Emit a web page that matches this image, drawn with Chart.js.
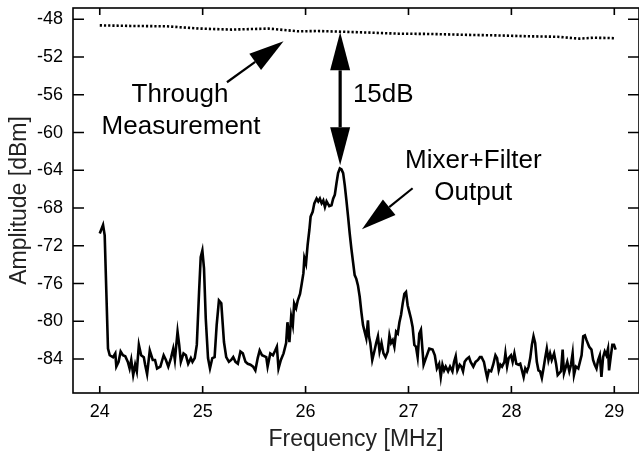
<!DOCTYPE html>
<html>
<head>
<meta charset="utf-8">
<script src="https://cdn.jsdelivr.net/npm/chart.js@4"></script>
<style>
  html, body { margin: 0; padding: 0; background: #fff; }
  canvas { display: block; }
</style>
</head>
<body>
<canvas id="spectrum" width="639" height="453"></canvas>
<script>
// Mixer+Filter output trace [MHz], [dBm]
const mixFreq = [
  24.000, 24.032, 24.048, 24.064, 24.080, 24.097, 24.129, 24.151, 24.161, 24.183,
  24.203, 24.225, 24.248, 24.273, 24.290, 24.306, 24.325, 24.344, 24.360, 24.380,
  24.402, 24.428, 24.441, 24.460, 24.486, 24.515, 24.537, 24.557, 24.589, 24.621,
  24.643, 24.666, 24.692, 24.714, 24.730, 24.756, 24.772, 24.788, 24.814, 24.837,
  24.859, 24.885, 24.901, 24.923, 24.943, 24.965, 24.981, 24.997, 25.013, 25.030,
  25.052, 25.071, 25.094, 25.116, 25.136, 25.158, 25.181, 25.207, 25.229, 25.255,
  25.277, 25.297, 25.319, 25.342, 25.367, 25.390, 25.416, 25.438, 25.464, 25.490,
  25.512, 25.535, 25.554, 25.577, 25.618, 25.631, 25.657, 25.683, 25.705, 25.721,
  25.737, 25.760, 25.786, 25.811, 25.824, 25.843, 25.860, 25.876, 25.889, 25.908,
  25.924, 25.946, 25.963, 25.979, 25.988, 26.004, 26.020, 26.037, 26.049, 26.069,
  26.085, 26.107, 26.123, 26.139, 26.156, 26.172, 26.188, 26.204, 26.230, 26.252,
  26.268, 26.284, 26.300, 26.316, 26.333, 26.349, 26.365, 26.381, 26.397, 26.413,
  26.429, 26.445, 26.461, 26.477, 26.493, 26.509, 26.526, 26.542, 26.558, 26.574,
  26.590, 26.606, 26.616, 26.629, 26.648, 26.670, 26.686, 26.703, 26.719, 26.738,
  26.757, 26.777, 26.799, 26.815, 26.831, 26.847, 26.863, 26.880, 26.896, 26.912,
  26.928, 26.944, 26.960, 26.976, 26.992, 27.008, 27.024, 27.040, 27.057, 27.073,
  27.089, 27.105, 27.121, 27.147, 27.169, 27.202, 27.234, 27.256, 27.276, 27.298,
  27.314, 27.330, 27.346, 27.362, 27.385, 27.404, 27.427, 27.443, 27.459, 27.475,
  27.498, 27.514, 27.530, 27.546, 27.565, 27.588, 27.604, 27.630, 27.652, 27.675,
  27.694, 27.710, 27.733, 27.749, 27.765, 27.781, 27.803, 27.823, 27.845, 27.861,
  27.877, 27.893, 27.909, 27.932, 27.942, 27.958, 27.974, 27.996, 28.012, 28.029,
  28.048, 28.070, 28.086, 28.103, 28.119, 28.135, 28.151, 28.167, 28.183, 28.199,
  28.215, 28.231, 28.247, 28.263, 28.279, 28.296, 28.312, 28.328, 28.344, 28.360,
  28.376, 28.392, 28.415, 28.434, 28.450, 28.466, 28.482, 28.498, 28.511, 28.530,
  28.543, 28.563, 28.579, 28.595, 28.608, 28.627, 28.650, 28.666, 28.682, 28.698,
  28.714, 28.730, 28.756, 28.778, 28.794, 28.810, 28.827, 28.843, 28.859, 28.875,
  28.891, 28.907, 28.923, 28.939, 28.949, 28.965, 28.981, 28.997, 29.013
];
const mixDbm = [
  -70.7, -69.8, -70.9, -76.9, -82.9, -83.6, -83.8, -83.4, -84.8, -84.3,
  -83.2, -83.6, -83.7, -84.3, -85.0, -84.1, -85.7, -84.6, -85.3, -82.5,
  -83.6, -83.8, -84.6, -85.6, -83.1, -84.1, -84.1, -85.0, -84.8, -83.6,
  -84.1, -84.8, -83.9, -82.9, -84.1, -81.1, -82.5, -84.3, -83.4, -83.6,
  -84.5, -83.9, -84.3, -83.9, -82.5, -76.9, -73.2, -72.5, -74.4, -79.7,
  -83.9, -85.0, -83.9, -83.8, -80.4, -77.8, -78.1, -82.2, -83.8, -84.3,
  -84.1, -83.8, -84.3, -84.5, -83.2, -83.4, -84.3, -84.5, -84.6, -84.8,
  -85.2, -83.9, -83.1, -83.6, -83.8, -84.8, -83.4, -83.6, -83.1, -82.7,
  -85.0, -84.1, -83.4, -82.3, -80.1, -82.2, -79.5, -80.4, -78.1, -78.6,
  -77.8, -77.1, -76.0, -74.9, -73.3, -73.9, -71.9, -70.3, -68.9, -68.4,
  -67.5, -67.0, -67.3, -67.0, -67.5, -67.2, -67.9, -67.3, -67.8, -67.7,
  -67.0, -66.6, -65.4, -64.3, -63.8, -63.9, -64.3, -65.6, -67.2, -68.9,
  -70.7, -72.3, -73.7, -75.1, -75.5, -76.2, -77.4, -79.0, -80.4, -81.1,
  -81.8, -79.9, -81.6, -82.3, -84.1, -83.1, -82.3, -81.6, -83.2, -82.3,
  -83.4, -83.8, -83.2, -81.5, -82.3, -82.0, -82.7, -81.1, -81.3, -80.1,
  -79.3, -78.1, -77.1, -76.9, -78.3, -79.0, -79.7, -80.6, -82.5, -82.7,
  -83.8, -81.3, -80.9, -84.6, -83.9, -82.9, -83.0, -83.6, -85.0, -84.5,
  -85.9, -84.6, -85.2, -84.8, -85.3, -84.8, -85.3, -84.3, -83.7, -85.2,
  -84.6, -84.8, -85.3, -84.3, -84.0, -83.8, -84.3, -84.8, -84.3, -84.1,
  -83.8, -83.8, -84.3, -85.2, -86.0, -85.2, -85.3, -84.6, -83.6, -83.9,
  -85.2, -84.6, -84.8, -84.3, -83.4, -84.8, -83.9, -83.6, -84.3, -83.4,
  -84.5, -84.6, -84.5, -85.2, -85.9, -85.0, -85.3, -84.8, -83.9, -82.5,
  -81.6, -82.3, -84.3, -85.2, -85.3, -86.0, -85.0, -83.9, -82.9, -84.1,
  -83.4, -84.1, -83.4, -84.5, -85.7, -85.5, -85.3, -83.0, -85.5, -84.8,
  -84.3, -85.3, -84.6, -83.4, -85.7, -84.8, -85.0, -84.3, -83.6, -81.6,
  -81.5, -82.0, -82.7, -83.0, -84.1, -84.6, -85.0, -84.1, -83.6, -85.9,
  -83.8, -83.2, -83.6, -82.9, -85.2, -83.8, -82.5, -82.5, -83.0
];

// Through measurement (dotted)
const thruFreq = [24.0, 24.3, 24.65, 24.97, 25.28, 25.64, 25.93, 26.12, 26.32, 26.6,
                  26.9, 27.2, 27.54, 27.85, 28.18, 28.45, 28.66, 28.8, 28.94, 29.0];
const thruDbm  = [-48.64, -48.70, -48.74, -48.98, -49.09, -48.98, -49.27, -49.24, -49.30, -49.40,
                  -49.52, -49.55, -49.64, -49.70, -49.80, -49.85, -50.05, -49.95, -49.98, -50.0];

const xTicks = [24, 25, 26, 27, 28, 29];
const yTicks = [-48, -52, -56, -60, -64, -68, -72, -76, -80, -84];

// annotations, placed in data units
const noteTexts = [
  {text: 'Through', f: 24.78, db: -56.8, align: 'center'},
  {text: 'Measurement', f: 24.79, db: -60.1, align: 'center'},
  {text: '15dB', f: 26.46, db: -56.8, align: 'left'},
  {text: 'Mixer+Filter', f: 27.63, db: -63.8, align: 'center'},
  {text: 'Output', f: 27.63, db: -67.1, align: 'center'}
];
const noteArrows = [
  {from: [25.236, -54.67], to: [25.786, -50.33], w: 2.2, both: false},
  {from: [27.04, -65.9], to: [26.548, -70.24], w: 2.2, both: false},
  {from: [26.336, -63.46], to: [26.336, -49.38], w: 3.2, both: true}
];

const FONT = "'Liberation Sans', Arial, Helvetica, sans-serif";
Chart.defaults.font.family = FONT;
Chart.defaults.color = '#000';

function arrowHead(ctx, tx, ty, fx, fy, len, half) {
  const a = Math.atan2(ty - fy, tx - fx);
  const bx = tx - len * Math.cos(a), by = ty - len * Math.sin(a);
  ctx.beginPath();
  ctx.moveTo(tx, ty);
  ctx.lineTo(bx + half * Math.sin(a), by - half * Math.cos(a));
  ctx.lineTo(bx - half * Math.sin(a), by + half * Math.cos(a));
  ctx.closePath();
  ctx.fill();
  return [bx, by];
}

const frameAndNotes = {
  id: 'frameAndNotes',
  afterDraw(chart) {
    const {ctx, chartArea: a, scales: {x, y}} = chart;
    ctx.save();
    ctx.strokeStyle = '#000';
    ctx.fillStyle = '#000';
    ctx.lineWidth = 1.6;
    ctx.strokeRect(a.left, a.top, a.right - a.left, a.bottom - a.top);

    // inward ticks on all four sides
    ctx.beginPath();
    x.ticks.forEach(t => {
      const px = x.getPixelForValue(t.value);
      ctx.moveTo(px, a.bottom); ctx.lineTo(px, a.bottom - 7);
      ctx.moveTo(px, a.top); ctx.lineTo(px, a.top + 7);
    });
    y.ticks.forEach(t => {
      const py = y.getPixelForValue(t.value);
      ctx.moveTo(a.left, py); ctx.lineTo(a.left + 11, py);
      ctx.moveTo(a.right, py); ctx.lineTo(a.right - 11, py);
    });
    ctx.stroke();

    // arrows
    noteArrows.forEach(n => {
      const x1 = x.getPixelForValue(n.from[0]), y1 = y.getPixelForValue(n.from[1]);
      const x2 = x.getPixelForValue(n.to[0]), y2 = y.getPixelForValue(n.to[1]);
      const e = arrowHead(ctx, x2, y2, x1, y1, n.both ? 38 : 35, 10);
      let s = [x1, y1];
      if (n.both) s = arrowHead(ctx, x1, y1, x2, y2, 38, 10);
      ctx.lineWidth = n.w;
      ctx.beginPath();
      ctx.moveTo(s[0], s[1]);
      ctx.lineTo(e[0], e[1]);
      ctx.stroke();
    });

    // labels
    ctx.font = '26px ' + FONT;
    ctx.textBaseline = 'alphabetic';
    noteTexts.forEach(n => {
      ctx.textAlign = n.align;
      ctx.fillText(n.text, x.getPixelForValue(n.f), y.getPixelForValue(n.db));
    });
    ctx.restore();
  }
};

new Chart(document.getElementById('spectrum'), {
  type: 'line',
  data: {
    datasets: [
      {
        label: 'Mixer+Filter Output',
        data: mixFreq.map((f, i) => ({x: f, y: mixDbm[i]})),
        borderColor: '#000',
        borderWidth: 2.6,
        pointRadius: 0,
        tension: 0,
        fill: false
      },
      {
        label: 'Through Measurement',
        data: thruFreq.map((f, i) => ({x: f, y: thruDbm[i]})),
        borderColor: '#000',
        borderWidth: 2.6,
        borderDash: [2.2, 2],
        pointRadius: 0,
        tension: 0,
        fill: false
      }
    ]
  },
  options: {
    responsive: false,
    animation: false,
    layout: {padding: {top: 8, right: -4, bottom: 0, left: 0}},
    plugins: {legend: {display: false}, tooltip: {enabled: false}},
    scales: {
      x: {
        type: 'linear',
        min: 23.74,
        max: 29.24,
        afterBuildTicks: s => { s.ticks = xTicks.map(v => ({value: v})); },
        afterFit: s => { s.height = 60; s.paddingLeft = 0; s.paddingRight = 0; },
        grid: {display: false, drawTicks: false},
        border: {display: false},
        ticks: {padding: 8, font: {size: 18}, color: '#000', maxRotation: 0},
        title: {display: true, text: 'Frequency [MHz]', font: {size: 23}, color: '#222', padding: {top: 0, bottom: 0}}
      },
      y: {
        type: 'linear',
        min: -87.6,
        max: -46.8,
        afterBuildTicks: s => { s.ticks = yTicks.map(v => ({value: v})); },
        afterFit: s => { s.width = 73; s.paddingTop = 0; s.paddingBottom = 0; },
        grid: {display: false, drawTicks: false},
        border: {display: false},
        ticks: {padding: 10, font: {size: 18}, color: '#000'},
        title: {display: true, text: 'Amplitude [dBm]', font: {size: 23}, color: '#222', padding: {top: 6, bottom: 0}}
      }
    }
  },
  plugins: [frameAndNotes]
});
</script>
</body>
</html>
